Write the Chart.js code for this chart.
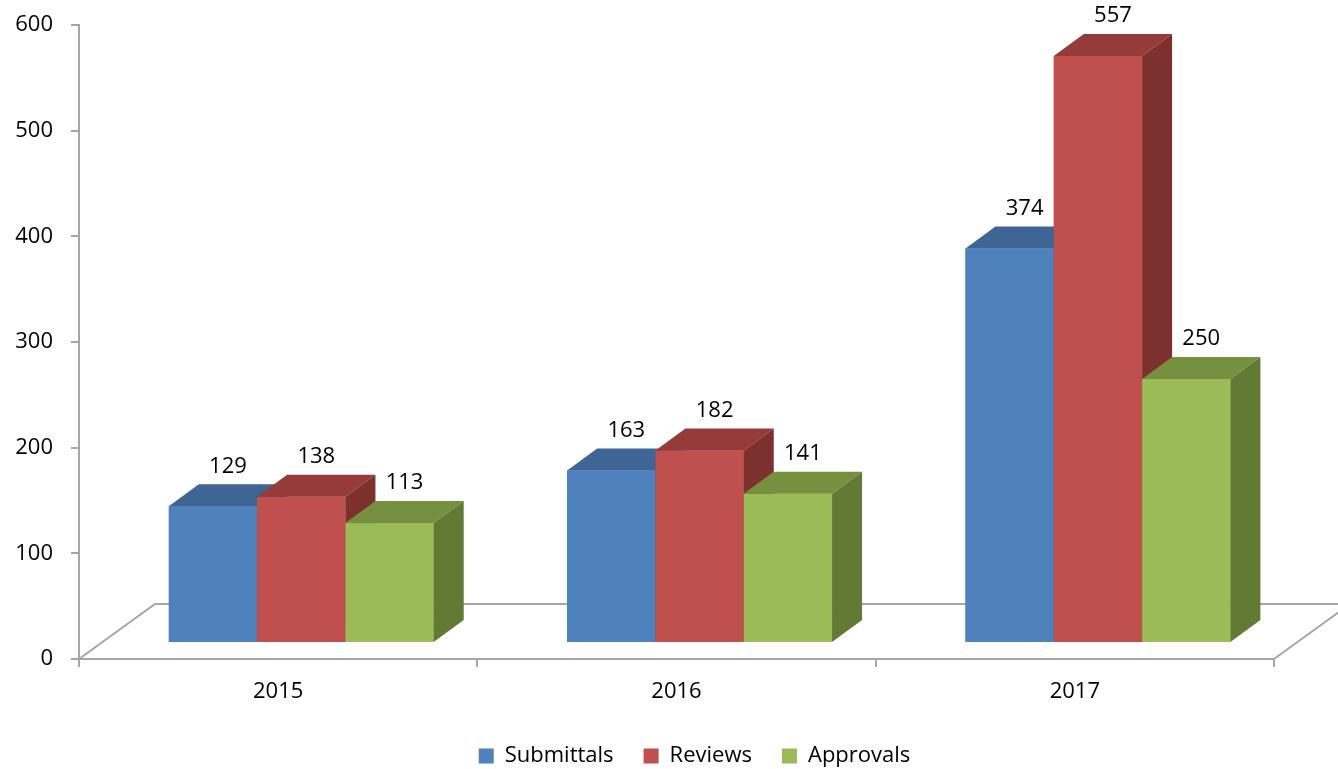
<!DOCTYPE html>
<html>
<head>
<meta charset="utf-8">
<script src="https://cdn.jsdelivr.net/npm/chart.js@4.4.1/dist/chart.umd.min.js"></script>
<style>
  html, body { margin: 0; padding: 0; background: #fff; }
  #wrap { width: 1338px; height: 769px; overflow: hidden; }
</style>
</head>
<body>
<div id="wrap"><canvas id="chart" width="1389" height="777"></canvas></div>
<script>
const years = ['2015', '2016', '2017'];
const submittals = [129, 163, 374];
const reviews = [138, 182, 557];
const approvals = [113, 141, 250];
const yTicks = [0, 100, 200, 300, 400, 500, 600];
const seriesNames = ['Submittals', 'Reviews', 'Approvals'];

const frontColors = ['#4f81bd', '#c0504d', '#9bbb59'];
const topColors = ['#3e6593', '#953b39', '#77903f'];
const sideColors = ['#345679', '#7c312f', '#637a35'];

const DEPTH = { x: 30, y: -22 };   // bar depth
const FLOOR = { x: 76, y: -55 };   // floor depth
const GREY = '#a6a6a6';
const FONT = { family: "'Open Sans'", size: 22 };

// floor outline behind the bars
const floorPlugin = {
  id: 'floor',
  beforeDatasetsDraw(chart) {
    const { ctx, chartArea: a } = chart;
    ctx.save();
    ctx.strokeStyle = GREY;
    ctx.lineWidth = 2;
    ctx.beginPath();
    ctx.moveTo(a.left, a.bottom);
    ctx.lineTo(a.left + FLOOR.x, a.bottom + FLOOR.y);
    ctx.lineTo(a.right + FLOOR.x, a.bottom + FLOOR.y);
    ctx.moveTo(a.right, a.bottom);
    ctx.lineTo(a.right + FLOOR.x, a.bottom + FLOOR.y);
    ctx.stroke();
    ctx.restore();
  }
};

// repaint bars as boxes, left to right, so each front hides the previous side
const boxPlugin = {
  id: 'box3d',
  afterDatasetsDraw(chart) {
    const ctx = chart.ctx;
    const n = chart.data.datasets.length;
    ctx.save();
    for (let s = 0; s < n; s++) {
      chart.getDatasetMeta(s).data.forEach(el => {
        const { x, y, base, width } = el.getProps(['x', 'y', 'base', 'width'], true);
        const l = x - width / 2, r = x + width / 2;
        ctx.fillStyle = frontColors[s];
        ctx.fillRect(l, y, width, base - y);
        ctx.fillStyle = topColors[s];
        ctx.beginPath();
        ctx.moveTo(l, y);
        ctx.lineTo(l + DEPTH.x, y + DEPTH.y);
        ctx.lineTo(r + DEPTH.x, y + DEPTH.y);
        ctx.lineTo(r, y);
        ctx.closePath();
        ctx.fill();
        ctx.fillStyle = sideColors[s];
        ctx.beginPath();
        ctx.moveTo(r, y);
        ctx.lineTo(r + DEPTH.x, y + DEPTH.y);
        ctx.lineTo(r + DEPTH.x, base + DEPTH.y);
        ctx.lineTo(r, base);
        ctx.closePath();
        ctx.fill();
      });
    }
    // value labels
    ctx.fillStyle = '#000';
    ctx.font = FONT.size + 'px ' + FONT.family;
    ctx.textAlign = 'center';
    ctx.textBaseline = 'middle';
    for (let s = 0; s < n; s++) {
      const vals = chart.data.datasets[s].data;
      chart.getDatasetMeta(s).data.forEach((el, i) => {
        const { x, y } = el.getProps(['x', 'y'], true);
        ctx.fillText(String(vals[i].y), x + 15, y - 40);
      });
    }
    ctx.restore();
  }
};

new Chart(document.getElementById('chart'), {
  type: 'bar',
  data: {
    labels: years,
    datasets: [submittals, reviews, approvals].map((vals, s) => ({
      label: seriesNames[s],
      data: vals.map((v, i) => ({ x: i, y: v })),
      backgroundColor: frontColors[s],
      borderWidth: 0,
      xAxisID: 'xb',
      yAxisID: 'yb',
      categoryPercentage: 0.665,
      barPercentage: 1
    }))
  },
  options: {
    responsive: false,
    animation: false,
    layout: { padding: { left: 0, top: 25, right: 0, bottom: 0 } },
    plugins: {
      tooltip: { enabled: false },
      legend: {
        position: 'bottom',
        labels: { boxWidth: 15, boxHeight: 15, padding: 30, color: '#000', font: FONT }
      }
    },
    scales: {
      x: {
        type: 'category',
        labels: years,
        position: 'bottom',
        offset: true,
        grid: { offset: true, drawOnChartArea: false, color: GREY, lineWidth: 2, tickLength: 8 },
        border: { color: GREY, width: 2 },
        ticks: { color: '#000', font: FONT, padding: 12 },
        afterFit: s => { s.height = 56; }
      },
      // bars sit on a slightly shifted plane (3D perspective)
      xb: {
        type: 'linear',
        display: false,
        offset: false,
        min: -0.558,
        max: 2.442,
        afterBuildTicks: s => { s.ticks = years.map((_, i) => ({ value: i })); }
      },
      y: {
        position: 'left',
        min: 0,
        max: 600,
        afterBuildTicks: s => { s.ticks = yTicks.map(v => ({ value: v })); },
        ticks: { color: '#000', font: FONT, padding: 18 },
        grid: { drawOnChartArea: false, color: GREY, lineWidth: 2, tickLength: 8 },
        border: { color: GREY, width: 2 },
        afterFit: s => { s.width = 79; s.paddingTop = 0; s.paddingBottom = 0; }
      },
      yb: {
        position: 'right',
        min: -16.2,
        max: 586.5,
        grid: { display: false },
        border: { display: false },
        ticks: { display: false },
        afterFit: s => { s.width = 115; s.paddingTop = 0; s.paddingBottom = 0; }
      }
    }
  },
  plugins: [floorPlugin, boxPlugin]
});
</script>
</body>
</html>
